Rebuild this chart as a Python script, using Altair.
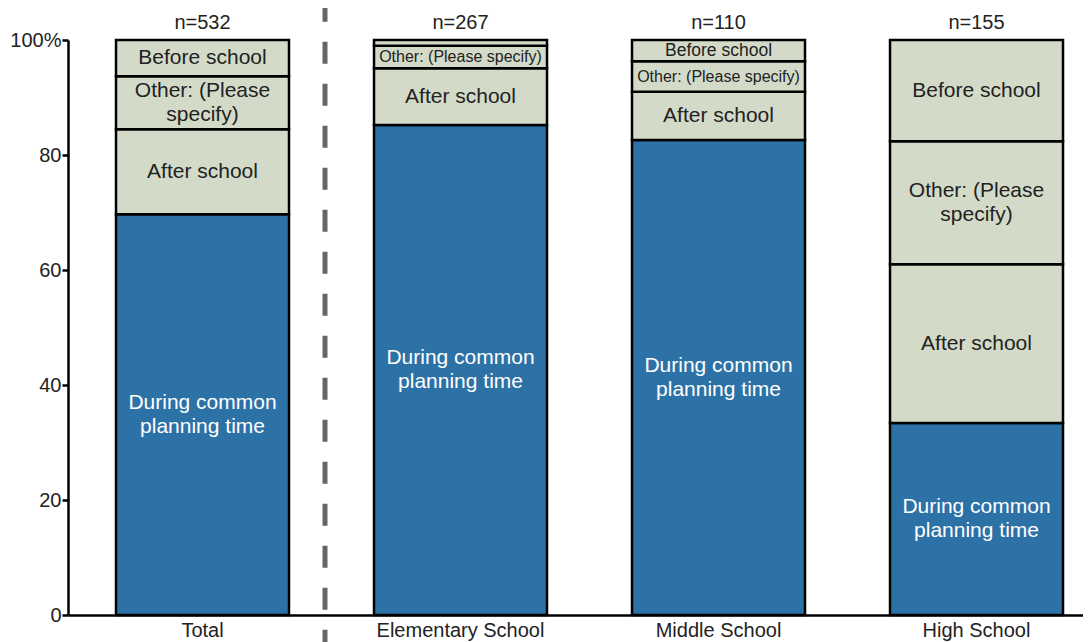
import altair as alt
import pandas as pd

categories = ["Total", "Elementary School", "Middle School", "High School"]
n_labels = ["n=532", "n=267", "n=110", "n=155"]
segments = ["During common planning time", "After school", "Other: (Please specify)", "Before school"]
during = [69.7, 85.2, 82.6, 33.4]
after_school = [14.8, 9.9, 8.4, 27.6]
other = [9.2, 3.9, 5.3, 21.4]
before = [6.3, 1.0, 3.7, 17.6]

BLUE = "#2D72A6"
GREY = "#D3DBC8"
FONT = "Liberation Sans"


def seg_label(seg, v):
    if v < 2:
        return ""
    if seg.startswith("During"):
        return "During common\nplanning time"
    if seg.startswith("Other") and v >= 6:
        return "Other: (Please\nspecify)"
    return seg


rows = []
for i, c in enumerate(categories):
    for j, (s, vals) in enumerate(zip(segments, [during, after_school, other, before])):
        v = vals[i]
        lab = seg_label(s, v)
        rows.append({"cat": c, "seg": s, "order": j, "value": v, "label": lab,
                     "nlines": lab.count("\n") + 1})
df = pd.DataFrame(rows)
ndf = pd.DataFrame({"cat": categories, "n": n_labels})
sep = pd.DataFrame({"cat": [categories[0]]})

W, H = 1015, 575
xscale = alt.Scale(domain=categories, paddingInner=0.3295, paddingOuter=0.1318, align=0.706)
yscale = alt.Scale(domain=[0, 100], nice=False)

xenc = alt.X("cat:N", scale=xscale, sort=categories, title=None,
             axis=alt.Axis(labelAngle=0, ticks=False, domainColor="black", domainWidth=2.5,
                           labelFontSize=20, labelFont=FONT, labelColor="#222", labelPadding=5))

base = alt.Chart(df).transform_stack(
    stack="value", groupby=["cat"], sort=[alt.SortField("order")], as_=["y0", "y1"]
).transform_calculate(
    mid="(datum.y0 + datum.y1) / 2",
    fs="datum.value >= 6 ? 21 : (indexof(datum.seg, 'Other') == 0 ? 16 : 17.5)",
)

bars = base.mark_bar(stroke="black", strokeWidth=2.5).encode(
    x=xenc,
    y=alt.Y("y0:Q", scale=yscale, title=None,
            axis=alt.Axis(values=[0, 20, 40, 60, 80, 100], grid=False,
                          labelExpr="datum.value == 100 ? '100%' : datum.label",
                          tickSize=6, tickWidth=2.5, tickColor="black",
                          domainColor="black", domainWidth=2.5,
                          labelFontSize=20, labelFont=FONT, labelColor="#222", labelPadding=1)),
    y2="y1:Q",
    color=alt.Color("seg:N", scale=alt.Scale(domain=segments, range=[BLUE, GREY, GREY, GREY]), legend=None),
)

text_enc = dict(
    x=alt.X("cat:N", scale=xscale, sort=categories),
    y=alt.Y("mid:Q", scale=yscale),
    text="label:N",
    size=alt.Size("fs:Q", scale=None),
    color=alt.condition(alt.datum.seg == segments[0], alt.value("white"), alt.value("#222")),
)

texts1 = base.transform_filter("datum.nlines == 1").mark_text(
    font=FONT, baseline="middle", align="center").encode(**text_enc)
texts2 = base.transform_filter("datum.nlines == 2").mark_text(
    lineBreak="\n", lineHeight=24, font=FONT, baseline="middle", align="center", dy=-12).encode(**text_enc)

ntext = alt.Chart(ndf).mark_text(font=FONT, fontSize=20, color="#222", baseline="middle", dy=-17).encode(
    x=alt.X("cat:N", scale=xscale, sort=categories),
    y=alt.datum(100, scale=yscale),
    text="n:N",
)

divider = alt.Chart(sep).mark_rule(strokeDash=[22, 20], strokeWidth=5, color="#666666", xOffset=36).encode(
    x=alt.X("cat:N", scale=xscale, sort=categories, bandPosition=1),
    y=alt.datum(107, scale=yscale),
    y2=alt.datum(-5),
)

chart = alt.layer(bars, texts1, texts2, ntext, divider).properties(
    width=W, height=H,
    autosize=alt.AutoSizeParams(type="none"),
    padding={"left": 60, "top": 32, "right": 0, "bottom": 27},
).configure_view(stroke=None)

chart.save("out.html", embed_options={"renderer": "svg", "actions": False})
